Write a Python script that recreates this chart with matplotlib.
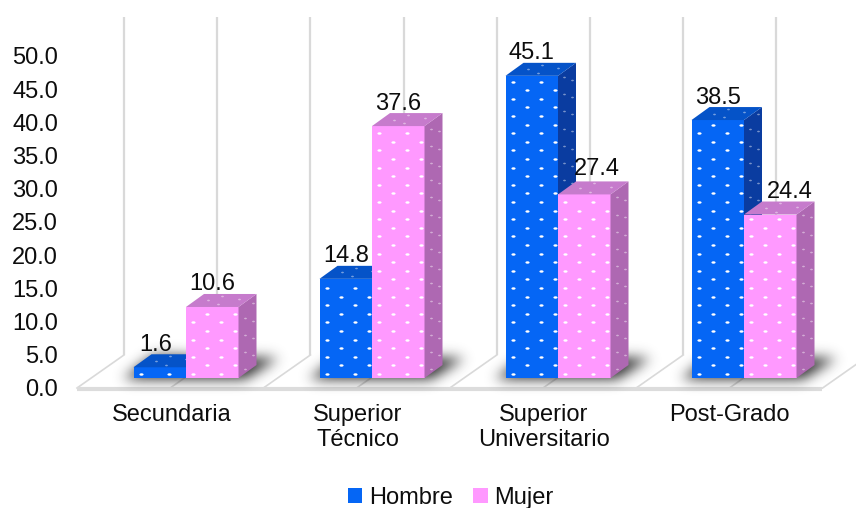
import numpy as np
import matplotlib
matplotlib.use("Agg")
import matplotlib.pyplot as plt
from matplotlib.patches import Polygon, Patch
from matplotlib.path import Path

plt.rcParams['font.family'] = ['Liberation Sans', 'DejaVu Sans']

# ---- data ----
categories = ["Secundaria", "Superior\nTécnico", "Superior\nUniversitario", "Post-Grado"]
hombre = [1.6, 14.8, 45.1, 38.5]
mujer = [10.6, 37.6, 27.4, 24.4]
series_names = ["Hombre", "Mujer"]
yticks = [0, 5, 10, 15, 20, 25, 30, 35, 40, 45, 50]

# ---- colours ----
BLUE = dict(front="#0566F5", side="#0A3CA0", top="#0553C8")
PINK = dict(front="#FF99FF", side="#AE68B2", top="#C67BCC")
GRID = "#d9d9d9"
TXT = "#0d0d0d"
FS = 17

W, H = 856, 508
fig = plt.figure(figsize=(W / 100, H / 100), dpi=100)
ax = fig.add_axes([0, 0, 1, 1])

# pixel <-> data mapping for the pseudo-3D projection
X0, SX = 186.0, 186.0      # category 0 centre, pixels per category
Y0, SY = 378.0, 6.70       # front baseline, pixels per unit


def px2x(px):
    return (px - X0) / SX


def py2y(py):
    return (Y0 - py) / SY


def x2px(x):
    return X0 + x * SX


def y2py(y):
    return Y0 - y * SY


ax.set_xlim(px2x(0), px2x(W))
ax.set_ylim(py2y(H), py2y(0))
ax.axis("off")

BAR_W = 52.5 / SX
DXP, DYP = 18.0, 13.0          # bar depth in pixels
DX, DY = DXP / SX, DYP / SY

# ---- back wall grid + floor ----
for k in range(9):
    L = 124 + 93.2 * k
    ax.plot([px2x(L), px2x(L)], [py2y(355), py2y(17)], color=GRID, lw=1.6, zorder=0.5,
            solid_capstyle="butt")
    ax.plot([px2x(L), px2x(L - 47)], [py2y(355), py2y(388)], color=GRID, lw=1.2, zorder=0.5)
ax.plot([px2x(77), px2x(822)], [py2y(388.5), py2y(388.5)], color="#dcdcdc", lw=3.0,
        zorder=0.6, solid_capstyle="butt")

# ---- soft floor shadows ----
yy, xx = np.mgrid[0:H, 0:W]
pts = np.column_stack([xx.ravel() + 0.5, yy.ravel() + 0.5])
mask = np.zeros(H * W)
for i in range(len(categories)):
    x0p = x2px(i - BAR_W)
    x1p = x2px(i + BAR_W)
    poly = Path([(x0p - 10, 379), (x1p + 6, 379), (x1p + DXP + 22, 358),
                 (x0p + DXP + 2, 356)])
    mask = np.maximum(mask, poly.contains_points(pts).astype(float))
mask = mask.reshape(H, W)
sig = 6.5
r = np.arange(-20, 21)
ker = np.exp(-0.5 * (r / sig) ** 2)
ker /= ker.sum()
mask = np.apply_along_axis(lambda m: np.convolve(m, ker, mode="same"), 1, mask)
mask = np.apply_along_axis(lambda m: np.convolve(m, ker, mode="same"), 0, mask)
shadow = np.zeros((H, W, 4))
shadow[..., :3] = 0.15
shadow[..., 3] = np.clip(mask * 1.0, 0, 0.88)
ax.imshow(shadow, extent=(px2x(0), px2x(W), py2y(H), py2y(0)), origin="upper",
          zorder=1, interpolation="bilinear", aspect="auto")

# dot texture marker (small horizontal ellipse)
circ = Path.unit_circle()
dot = Path(circ.vertices * np.array([1.7, 1.0]), circ.codes)


def texture(x0p, x1p, top_p):
    """Dot grid for the front face, sparser ones for the side and top faces."""
    fx, fy = [], []
    row = 0
    py = Y0 - 4
    while py > top_p + 2:
        px = x0p + 7 + (row % 2) * 14
        while px < x1p - 2:
            fx.append(px)
            fy.append(py)
            px += 28
        py -= 8.6
        row += 1
    sx, sy = [], []
    row = 0
    py = Y0 - 4
    while py > top_p + 2:
        u = 0.35 if row % 2 == 0 else 0.8
        sx.append(x1p + u * DXP)
        sy.append(py - u * DYP)
        py -= 8.6
        row += 1
    tx, ty = [], []
    for u, v in [(0.25, 0.5), (0.55, 0.2), (0.8, 0.6), (0.4, 0.85)]:
        tx.append(x0p + u * (x1p - x0p) + v * DXP)
        ty.append(top_p - v * DYP)
    return (fx, fy), (sx, sy), (tx, ty)


def draw_series(offset, vals, col, z, nudge=None):
    nudge = nudge or {}
    xs = np.arange(len(vals)) + offset
    ax.bar(xs, vals, width=BAR_W, color=col["front"], zorder=z, linewidth=0)
    for i, (x, v) in enumerate(zip(xs, vals)):
        xl, xr = x - BAR_W / 2, x + BAR_W / 2
        ax.add_patch(Polygon([(xr, 0), (xr + DX, DY), (xr + DX, v + DY), (xr, v)],
                             closed=True, fc=col["side"], ec="none", zorder=z))
        ax.add_patch(Polygon([(xl, v), (xr, v), (xr + DX, v + DY), (xl + DX, v + DY)],
                             closed=True, fc=col["top"], ec="none", zorder=z))
        (fx, fy), (sx, sy), (tx, ty) = texture(x2px(xl), x2px(xr), y2py(v))
        ax.scatter(px2x(np.array(fx)), py2y(np.array(fy)), s=9, marker=dot,
                   color="white", linewidths=0, zorder=z + 0.01)
        if sx:
            ax.scatter(px2x(np.array(sx)), py2y(np.array(sy)), s=4, marker=dot,
                       color="white", alpha=0.45, linewidths=0, zorder=z + 0.01)
        ax.scatter(px2x(np.array(tx)), py2y(np.array(ty)), s=4, marker=dot,
                   color="white", alpha=0.45, linewidths=0, zorder=z + 0.01)
        dxl, dyl = nudge.get(i, (0, 0))
        ax.text(x + dxl / SX, v + (25 + dyl) / SY, f"{v:.1f}", ha="center",
                va="center_baseline", fontsize=FS, color=TXT, zorder=10)


draw_series(-BAR_W / 2, hombre, BLUE, 2, nudge={0: (-4, 0)})
# labels of the shorter bars beside a taller neighbour are pushed right
draw_series(BAR_W / 2, mujer, PINK, 3, nudge={2: (13, 3), 3: (20, 0)})

# ---- value axis labels ----
for t in yticks:
    ax.text(px2x(58), py2y(388 - 6.64 * t), f"{t:.1f}", ha="right",
            va="center_baseline", fontsize=FS, color=TXT)

# ---- category labels ----
for i, c in enumerate(categories):
    ax.text(i - 14.5 / SX, py2y(404), c, ha="center", va="top", fontsize=FS,
            color=TXT, linespacing=1.2)

# ---- legend ----
handles = [Patch(facecolor=BLUE["front"], edgecolor="none"),
           Patch(facecolor=PINK["front"], edgecolor="none")]
fig.legend(handles, series_names, loc="center", bbox_to_anchor=(451 / W, 1 - 498 / H),
           ncol=2, frameon=False, fontsize=FS, handlelength=0.6, handleheight=0.6,
           handletextpad=0.3, columnspacing=0.85, labelcolor=TXT)

fig.savefig("out.png", dpi=100)
